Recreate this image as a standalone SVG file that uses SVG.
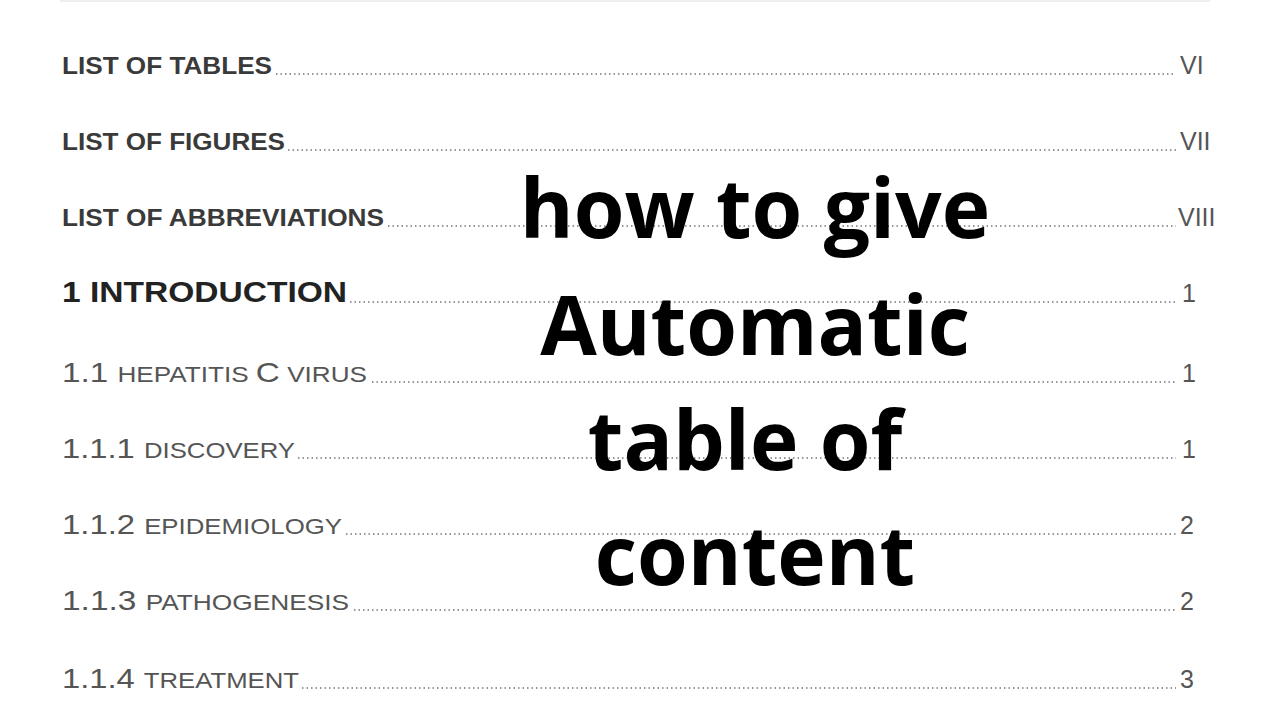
<svg xmlns="http://www.w3.org/2000/svg" width="1280" height="720" viewBox="0 0 1280 720">
<style>
.h{font-family:"Liberation Sans",Arial,sans-serif;font-weight:bold;font-size:24px;fill:#3a3a3a}
.n{font-family:"Liberation Sans",Arial,sans-serif;font-size:28px;fill:#555}
.s{font-size:22px}
.d{stroke:#777;stroke-width:1.3;stroke-dasharray:1.5 3}
.p{font-family:"Liberation Sans",Arial,sans-serif;font-size:25px;fill:#555}
.b{font-family:"Open Sans","Liberation Sans",sans-serif;font-weight:bold;font-size:82px;fill:#000;text-anchor:middle}
</style>
<rect width="1280" height="720" fill="#fff"/>
<line x1="60" y1="1" x2="1210" y2="1" stroke="#eee" stroke-width="2"/>
<text class="h" x="62" y="74" textLength="210" lengthAdjust="spacingAndGlyphs">LIST OF TABLES</text><line class="d" x1="276" y1="74" x2="1176" y2="74"/><text class="p" x="1180" y="74">VI</text>
<text class="h" x="62" y="150" textLength="223" lengthAdjust="spacingAndGlyphs">LIST OF FIGURES</text><line class="d" x1="288" y1="150" x2="1176" y2="150"/><text class="p" x="1180" y="150">VII</text>
<text class="h" x="62" y="226" textLength="322" lengthAdjust="spacingAndGlyphs">LIST OF ABBREVIATIONS</text><line class="d" x1="388" y1="226" x2="1176" y2="226"/><text class="p" x="1178" y="226">VIII</text>
<text class="h" x="62" y="302" textLength="285" lengthAdjust="spacingAndGlyphs" style="font-size:29px;fill:#222">1 INTRODUCTION</text><line class="d" x1="350" y1="302" x2="1176" y2="302"/><text class="p" x="1182" y="302">1</text>
<text class="n" x="62" y="382" textLength="305" lengthAdjust="spacingAndGlyphs">1.1 <tspan class="s">HEPATITIS </tspan>C<tspan class="s"> VIRUS</tspan></text><line class="d" x1="372" y1="382" x2="1176" y2="382"/><text class="p" x="1182" y="382">1</text>
<text class="n" x="62" y="458" textLength="233" lengthAdjust="spacingAndGlyphs">1.1.1 <tspan class="s">DISCOVERY</tspan></text><line class="d" x1="298" y1="458" x2="1176" y2="458"/><text class="p" x="1182" y="458">1</text>
<text class="n" x="62" y="534" textLength="280" lengthAdjust="spacingAndGlyphs">1.1.2 <tspan class="s">EPIDEMIOLOGY</tspan></text><line class="d" x1="346" y1="534" x2="1176" y2="534"/><text class="p" x="1180" y="534">2</text>
<text class="n" x="62" y="610" textLength="287" lengthAdjust="spacingAndGlyphs">1.1.3 <tspan class="s">PATHOGENESIS</tspan></text><line class="d" x1="354" y1="610" x2="1176" y2="610"/><text class="p" x="1180" y="610">2</text>
<text class="n" x="62" y="688" textLength="237" lengthAdjust="spacingAndGlyphs">1.1.4 <tspan class="s">TREATMENT</tspan></text><line class="d" x1="302" y1="688" x2="1176" y2="688"/><text class="p" x="1180" y="688">3</text>
<text class="b" x="755" y="238">how to give</text>
<text class="b" x="755" y="355">Automatic</text>
<text class="b" x="745" y="470">table of</text>
<text class="b" x="755" y="585">content</text>
</svg>
